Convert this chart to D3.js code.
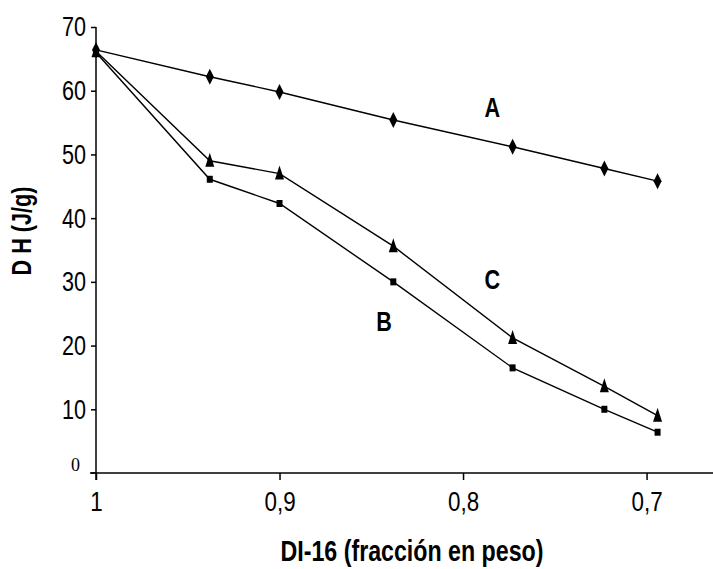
<!DOCTYPE html>
<html><head><meta charset="utf-8">
<script src="https://cdn.jsdelivr.net/npm/d3@7"></script>
<style>
body{margin:0;background:#fff;}
svg{display:block;}
text.narrow{font-family:"Liberation Sans Narrow","Arial Narrow","Liberation Sans",Arial,sans-serif;}
</style></head>
<body>
<script>
const xValues = [1, 0.938, 0.9, 0.838, 0.773, 0.723, 0.694];
const seriesA = [66.4, 62.2, 59.8, 55.4, 51.2, 47.8, 45.8];
const seriesB = [66.0, 46.1, 42.3, 30.0, 16.5, 10.0, 6.4];
const seriesC = [66.2, 49.0, 47.0, 35.6, 21.2, 13.6, 9.0];
const xTicks = [1, 0.9, 0.8, 0.7];
const xTickLabels = ["1", "0,9", "0,8", "0,7"];
const yTicks = [10, 20, 30, 40, 50, 60, 70];
const seriesNames = ["A", "B", "C"];
const labelPos = [{x:0.784, y:55.8}, {x:0.843, y:22.3}, {x:0.784, y:28.9}];

const W = 713, H = 569;
const SX = 0.8;
const svg = d3.select("body").append("svg").attr("width", W).attr("height", H);

const x = d3.scaleLinear().domain([1, 0.6638]).range([96, 713]);
const y = d3.scaleLinear().domain([0, 70]).range([473, 27]);

function narrowLabel(px, py, txt, size, bold, rotate) {
  const g = svg.append("g").attr("transform", `translate(${px},${py})` + (rotate ? " rotate(-90)" : "") + ` scale(${SX},1)`);
  g.append("text").attr("class", "narrow").attr("text-anchor", "middle")
    .attr("font-weight", bold ? "bold" : "normal").attr("font-size", size).text(txt);
  return g;
}

// axes lines
svg.append("line").attr("x1", 96).attr("x2", 96).attr("y1", y(70)).attr("y2", 480)
  .attr("stroke", "#000").attr("stroke-width", 1.5);
svg.append("line").attr("x1", 90).attr("x2", 713).attr("y1", y(0)).attr("y2", y(0))
  .attr("stroke", "#000").attr("stroke-width", 1.5);

// y ticks
const yAxis = d3.axisLeft(y).tickValues(yTicks).tickSize(5).tickPadding(0).tickFormat(d3.format("d"));
const gy = svg.append("g").attr("transform", "translate(96,0)").call(yAxis);
gy.attr("font-family", null);
gy.select(".domain").remove();
gy.selectAll(".tick line").attr("stroke-width", 1.5);
gy.selectAll(".tick text").attr("class", "narrow").attr("font-size", 27).attr("fill", "#000")
  .attr("x", -10 / SX).attr("dy", "0.33em").attr("transform", `scale(${SX},1)`);

// zero label (serif)
svg.append("text").attr("x", 80).attr("y", y(0) - 2).attr("text-anchor", "end")
  .attr("font-family", "'Liberation Serif','Times New Roman',serif").attr("font-size", 18).text("0");
svg.append("line").attr("x1", 91).attr("x2", 96).attr("y1", y(0)).attr("y2", y(0)).attr("stroke", "#000").attr("stroke-width", 1.5);

// x ticks
const xAxis = d3.axisBottom(x).tickValues(xTicks).tickSize(7).tickPadding(11)
  .tickFormat((d, i) => xTickLabels[i]);
const gx = svg.append("g").attr("transform", `translate(0,${y(0)})`).call(xAxis);
gx.attr("font-family", null);
gx.select(".domain").remove();
gx.selectAll(".tick line").attr("stroke-width", 1.5);
gx.selectAll(".tick text").attr("class", "narrow").attr("font-size", 28).attr("fill", "#000")
  .attr("transform", `scale(${SX},1)`);

// axis titles
narrowLabel(412, 561, "DI-16 (fracción en peso)", 29, true, false);
narrowLabel(31, 231, "D H  (J/g)", 27, true, true);

// lines
const allSeries = [seriesA, seriesB, seriesC];
const line = d3.line().x(d => x(d[0])).y(d => y(d[1]));
allSeries.forEach(s => {
  svg.append("path").datum(xValues.map((v, i) => [v, s[i]]))
    .attr("d", line).attr("fill", "none").attr("stroke", "#000").attr("stroke-width", 1.4);
});

// markers
const diamond = "M0,-8 L4,0 L0,8 L-4,0 Z";
const triangle = "M0,-8 L4.5,6 L-4.5,6 Z";
const square = "M-3,-3.5 L3,-3.5 L3,3.5 L-3,3.5 Z";
[[seriesA, diamond], [seriesB, square], [seriesC, triangle]].forEach(([s, p]) => {
  svg.append("g").selectAll("path").data(xValues.map((v, i) => [v, s[i]])).join("path")
    .attr("d", p).attr("transform", d => `translate(${x(d[0])},${y(d[1])})`).attr("fill", "#000");
});

// series labels
seriesNames.forEach((n, i) => {
  narrowLabel(x(labelPos[i].x), y(labelPos[i].y), n, 27, true, false);
});
</script>
</body></html>
